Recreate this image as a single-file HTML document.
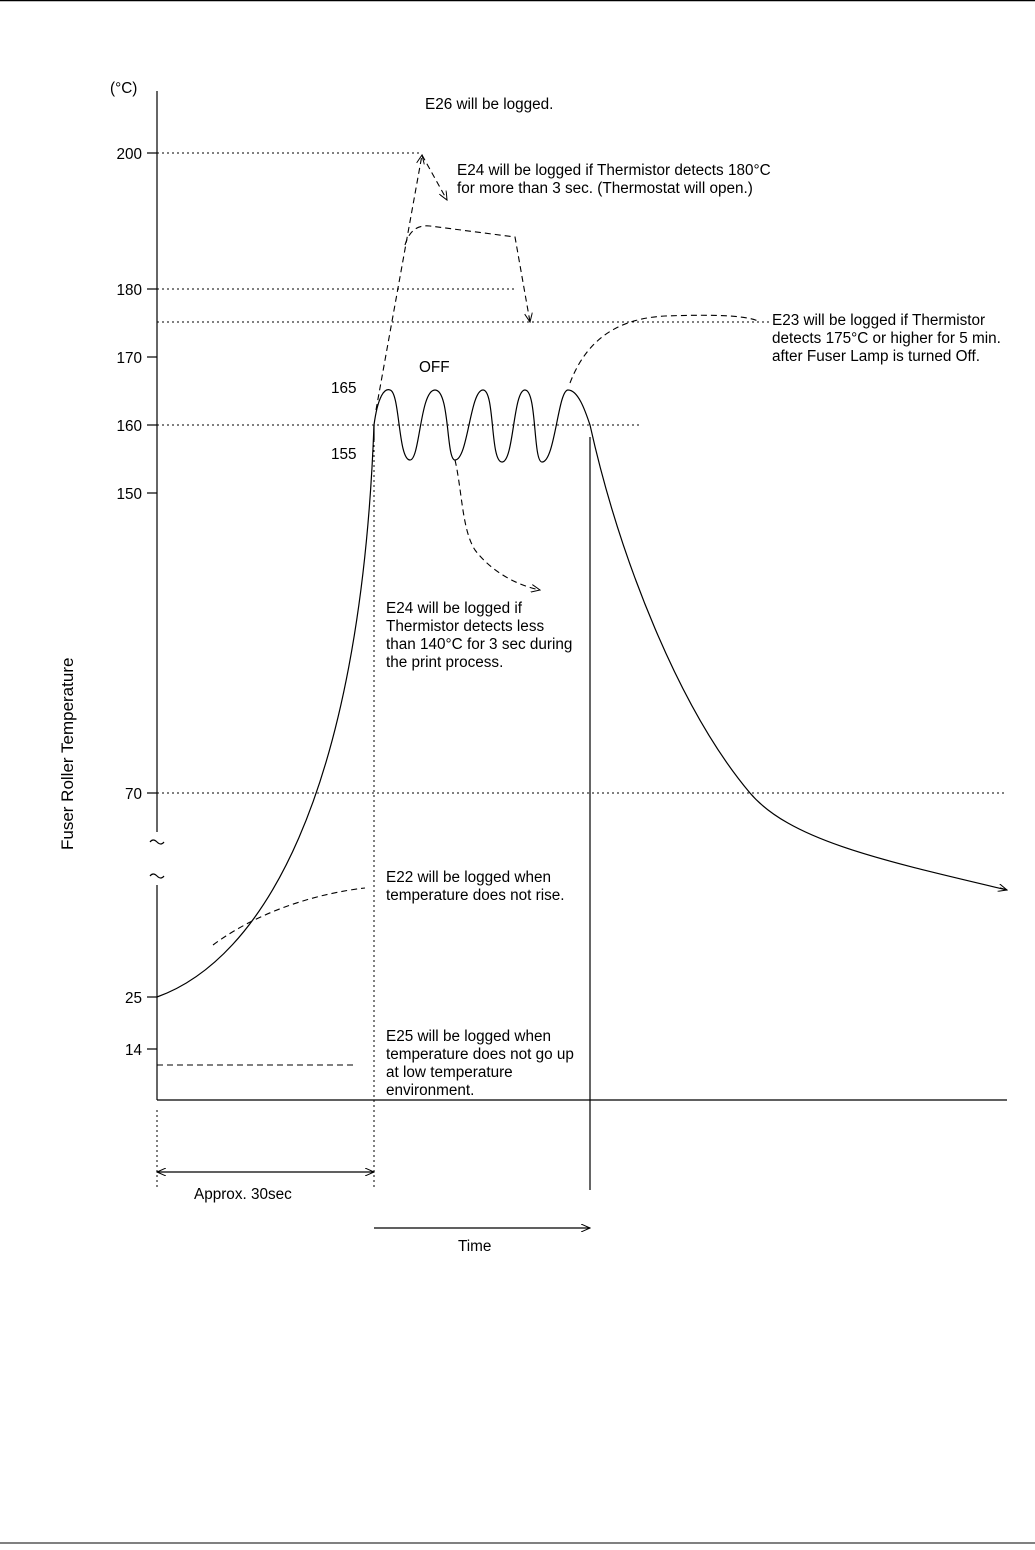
<!DOCTYPE html><html><head><style>body{margin:0;background:#fff}svg text{font-family:"Liberation Sans",sans-serif;font-size:15.3px;fill:#000}</style></head><body>
<svg width="1035" height="1545" viewBox="0 0 1035 1545" xmlns="http://www.w3.org/2000/svg">
<defs><marker id="a" markerWidth="10" markerHeight="8" refX="9" refY="4" orient="auto-start-reverse" markerUnits="userSpaceOnUse"><path d="M0,0 L9,4 L0,8" fill="none" stroke="#000" stroke-width="1"/></marker></defs>
<line x1="0" y1="0.5" x2="1035" y2="0.5" stroke="#000" stroke-width="1.5"/>
<line x1="0" y1="1543" x2="1035" y2="1543" stroke="#000" stroke-width="1"/>
<g stroke="#000" stroke-width="1.2" fill="none">
<line x1="157" y1="91" x2="157" y2="832"/><line x1="157" y1="885" x2="157" y2="1100"/>
<line x1="157" y1="1100" x2="1007" y2="1100"/>
<line x1="147" y1="153" x2="157" y2="153"/><line x1="147" y1="289" x2="157" y2="289"/><line x1="147" y1="357" x2="157" y2="357"/><line x1="147" y1="425" x2="157" y2="425"/><line x1="147" y1="493" x2="157" y2="493"/><line x1="147" y1="793" x2="157" y2="793"/><line x1="147" y1="997" x2="157" y2="997"/><line x1="147" y1="1049" x2="157" y2="1049"/>
<path d="M150,842 q3,-4 7,0 t7,0"/><path d="M150,876 q3,-4 7,0 t7,0"/>
<line x1="590" y1="437" x2="590" y2="1190"/>
<path d="M157,997 C260,960 360,800 374,425"/>
<path d="M374,425 C378,395 385,388 390,390 C400,392 398,460 410,460 C420,460 420,390 435,390 C450,390 446,460 455,460 C468,460 470,390 483,390 C495,390 490,462 502,462 C514,462 513,390 525,390 C537,390 533,462 542,462 C555,462 558,390 568,390 C578,390 585,410 590,425 C620,560 680,710 750,793 C790,840 880,860 1007,890" />
<line x1="374" y1="425" x2="374" y2="440"/>
<line x1="374" y1="1228" x2="590" y2="1228" marker-end="url(#a)"/>
<line x1="1000" y1="888" x2="1007" y2="890" marker-end="url(#a)"/>
<line x1="157" y1="1172" x2="374" y2="1172" marker-start="url(#a)" marker-end="url(#a)"/>
</g>
<g stroke="#000" stroke-width="1" fill="none" stroke-dasharray="2,3">
<line x1="157" y1="153" x2="422" y2="153"/><line x1="157" y1="289" x2="515" y2="289"/><line x1="157" y1="322" x2="770" y2="322"/><line x1="157" y1="425" x2="640" y2="425"/><line x1="157" y1="793" x2="1007" y2="793"/>
<line x1="374" y1="440" x2="374" y2="1190"/><line x1="157" y1="1110" x2="157" y2="1190"/>
</g>
<g stroke="#000" stroke-width="1.1" fill="none" stroke-dasharray="6,4">
<path d="M376,410 L422,155" marker-end="url(#a)"/>
<path d="M422,155 L447,200" marker-end="url(#a)"/>
<path d="M405,245 C410,228 420,225 430,226 L515,237 L530,322" marker-end="url(#a)"/>
<path d="M455,460 C462,490 462,530 475,550 C490,570 515,585 540,590" marker-end="url(#a)"/>
<path d="M570,383 C590,330 630,318 665,316 C720,314 750,316 760,322"/>
<path d="M213,945 C260,910 320,893 365,888"/>
<line x1="157" y1="1065" x2="357" y2="1065"/>
</g>
<text x="110" y="93">(°C)</text>
<g text-anchor="end"><text x="142" y="159">200</text><text x="142" y="295">180</text><text x="142" y="363">170</text><text x="142" y="431">160</text><text x="142" y="499">150</text><text x="142" y="799">70</text><text x="142" y="1003">25</text><text x="142" y="1055">14</text></g>
<text x="331" y="393">165</text><text x="331" y="459">155</text>
<text x="419" y="372">OFF</text>
<text x="425" y="109">E26 will be logged.</text>
<text x="457" y="175">E24 will be logged if Thermistor detects 180°C</text><text x="457" y="193">for more than 3 sec. (Thermostat will open.)</text>
<text x="772" y="325">E23 will be logged if Thermistor</text><text x="772" y="343">detects 175°C or higher for 5 min.</text><text x="772" y="361">after Fuser Lamp is turned Off.</text>
<text x="386" y="613">E24 will be logged if</text><text x="386" y="631">Thermistor detects less</text><text x="386" y="649">than 140°C for 3 sec during</text><text x="386" y="667">the print process.</text>
<text x="386" y="882">E22 will be logged when</text><text x="386" y="900">temperature does not rise.</text>
<text x="386" y="1041">E25 will be logged when</text><text x="386" y="1059">temperature does not go up</text><text x="386" y="1077">at low temperature</text><text x="386" y="1095">environment.</text>
<text x="194" y="1199">Approx. 30sec</text>
<text x="458" y="1251">Time</text>
<text transform="translate(73,850) rotate(-90)" style="font-size:17px">Fuser Roller Temperature</text>
</svg></body></html>
